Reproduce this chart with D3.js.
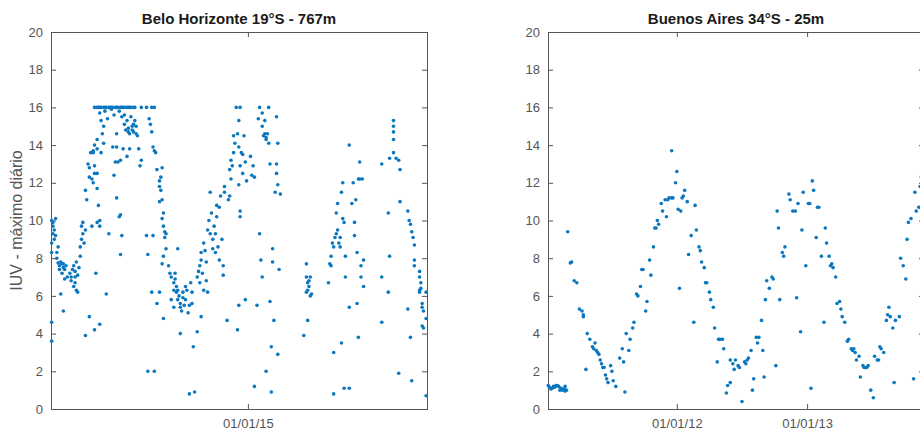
<!DOCTYPE html>
<html>
<head>
<meta charset="utf-8">
<script src="https://cdn.jsdelivr.net/npm/d3@7"></script>
<style>
  html, body { margin: 0; padding: 0; background: #fff; overflow: hidden; }
  svg { display: block; overflow: hidden; }
</style>
</head>
<body>
<div id="chart"></div>
<script>
// values: [decimal year, daily max UV index]
const bhWinter2013 = [
  [2013.49,10.0],[2013.50,9.9],[2013.50,9.7],[2013.51,9.5],[2013.52,10.1],[2013.50,9.3],[2013.49,8.8],[2013.49,8.3],
  [2013.49,4.6],[2013.49,3.6],[2013.51,9.0],[2013.53,8.3],[2013.53,8.0],[2013.54,7.75],[2013.55,7.6],[2013.55,7.4],
  [2013.56,7.8],[2013.57,7.7],[2013.57,7.2],[2013.58,7.5],[2013.58,7.7],[2013.59,7.4],[2013.60,7.6],[2013.61,7.0],
  [2013.59,6.9],[2013.56,6.1],[2013.58,5.2],[2013.54,8.6],[2013.52,9.2],[2013.63,7.2],[2013.64,7.0],[2013.64,6.8],
  [2013.65,7.4],[2013.66,6.5],[2013.66,7.6],[2013.67,7.3],[2013.68,6.3],[2013.68,7.8],[2013.69,7.1],[2013.69,6.2],
  [2013.70,7.5],[2013.67,6.7],[2013.67,7.0],[2013.71,8.1],[2013.71,8.6],[2013.72,9.0],[2013.73,9.3],[2013.72,9.7],
  [2013.73,9.9],[2013.74,8.8],[2013.75,9.5],[2013.75,3.9],[2013.75,11.6]
];
const bhSummer2014 = [
  [2013.76,11.1],[2013.77,13.0],[2013.78,12.8],[2013.78,12.3],[2013.79,13.6],[2013.80,12.2],[2013.81,13.6],[2013.81,13.7],
  [2013.82,12.5],[2013.78,4.9],[2013.82,4.2],[2013.80,9.7],[2013.84,9.9],[2013.83,7.2],[2013.82,14.0],[2013.81,12.0],
  [2013.84,11.7],[2013.85,10.8],[2013.86,10.0],[2013.86,4.5],[2013.86,9.7],[2013.84,14.3],[2013.84,13.8],[2013.82,12.9],
  [2013.84,12.5],
  [2013.82,16],[2013.84,16],[2013.85,16],[2013.86,16],[2013.87,16],[2013.89,16],[2013.90,16],[2013.91,16],[2013.93,16],
  [2013.94,16],[2013.95,16],[2013.96,16],[2013.98,16],[2013.99,16],[2014.00,16],[2014.02,16],[2014.03,16],[2014.04,16],
  [2014.05,16],[2014.07,16],[2014.08,16],[2014.09,16],[2014.10,16],[2014.12,16],[2014.13,16],[2014.18,16],[2014.22,16],
  [2014.26,16],[2014.28,16],
  [2013.86,15.7],[2013.87,15.3],[2013.89,15.0],[2013.88,14.6],[2013.89,14.1],[2013.87,13.6],[2013.91,6.1],[2013.93,9.3],
  [2013.97,12.4],[2013.99,14.6],[2013.99,13.9],[2014.00,13.1],[2013.99,11.2],[2014.01,10.2],[2014.02,10.3],[2014.03,9.2],
  [2014.02,8.2],[2014.02,13.2],[2014.04,13.8],[2014.05,15.1],[2014.05,15.6],[2014.07,15.3],[2014.08,14.9],[2014.09,14.6],
  [2014.07,13.4],[2014.09,13.8],[2014.10,15.5],[2014.11,15.0],[2014.12,14.7],[2014.13,15.3],[2014.14,14.6],[2014.14,15.0],
  [2014.15,14.5],[2014.16,13.8],[2014.17,12.9],[2014.18,13.2],[2014.22,9.2],[2014.23,8.2],[2014.23,2.0],[2014.28,2.0],
  [2014.25,15.1],[2014.24,15.4],[2014.26,14.7],[2014.27,13.9],[2014.28,13.7],[2014.29,13.6],[2014.30,12.7],[2014.27,9.2],
  [2014.26,6.2],[2014.30,5.6],[2014.32,6.2],[2014.35,4.8],[2014.34,12.8],[2014.32,12.1],[2014.32,11.8],[2014.33,11.6],
  [2014.34,11.1],[2014.32,11.0],[2014.35,10.4],[2014.34,10.1],[2014.35,9.7],[2014.36,9.4],[2014.37,9.3],[2014.37,8.5],
  [2014.35,8.1],[2014.34,7.7],
  [2013.90,15.8],[2013.92,15.4],[2013.95,15.9],[2013.97,15.6],[2014.01,15.8],[2014.03,15.5],[2014.06,14.8],[2014.08,14.7],
  [2014.11,14.8],[2014.12,15.1],[2013.96,13.9],[2013.98,13.1],[2014.33,12.3],[2014.36,9.1]
];
const bhWinter2014 = [
  [2014.39,7.6],[2014.40,7.2],[2014.41,7.0],[2014.43,6.7],[2014.43,6.3],[2014.44,6.9],[2014.45,6.5],[2014.45,6.2],
  [2014.46,5.8],[2014.46,6.3],[2014.47,6.0],[2014.48,5.6],[2014.48,5.4],[2014.49,5.2],[2014.50,5.9],[2014.50,6.2],
  [2014.51,5.5],[2014.52,6.5],[2014.52,5.8],[2014.53,6.3],[2014.46,8.5],[2014.48,4.0],[2014.44,7.2],[2014.41,5.8],
  [2014.43,5.4],[2014.54,5.1],[2014.55,5.5],[2014.55,0.8],[2014.59,0.9],[2014.58,3.3],[2014.61,4.1],[2014.57,5.6],
  [2014.57,6.2],[2014.56,6.7],[2014.61,7.0],[2014.62,7.3],[2014.63,7.6],[2014.63,6.7],[2014.64,8.3],[2014.64,7.9],
  [2014.65,7.2],[2014.66,6.3],[2014.64,4.9],[2014.66,8.8],[2014.67,8.4],[2014.68,7.8],[2014.68,6.8],[2014.69,6.2],
  [2014.69,9.5],[2014.70,10.0],[2014.71,11.5],[2014.71,9.3],[2014.72,10.4],[2014.73,9.0],[2014.73,8.5],[2014.74,9.7],
  [2014.75,8.3],[2014.75,9.3],[2014.76,10.2],[2014.76,10.8],[2014.77,8.6],[2014.78,7.9],[2014.78,10.7],[2014.79,11.3],
  [2014.80,9.0],[2014.81,7.6],[2014.81,7.1],[2014.82,11.8],[2014.82,11.5],[2014.84,4.7]
];
const bhSummer2015 = [
  [2014.85,11.1],[2014.86,11.3],[2014.86,12.7],[2014.87,13.2],[2014.87,12.2],[2014.88,12.9],[2014.89,13.6],[2014.89,14.5],
  [2014.90,14.1],[2014.91,16],[2014.92,14.6],[2014.93,15.3],[2014.93,13.9],[2014.94,12.9],[2014.94,16],[2014.92,4.2],
  [2014.93,5.5],[2014.94,10.5],[2014.94,10.2],[2014.93,11.9],[2014.95,13.6],[2014.96,13.5],[2014.96,12.5],[2014.97,14.5],
  [2014.98,5.8],[2014.98,13.1],[2014.99,12.1],[2015.02,13.4],[2015.03,12.4],[2015.04,12.9],[2015.05,12.3],[2015.05,1.2],
  [2015.14,2.0],[2015.07,5.5],[2015.08,15.4],[2015.09,16],[2015.09,9.3],[2015.10,7.9],[2015.11,7.0],[2015.11,15.7],
  [2015.11,15.0],[2015.12,14.5],[2015.13,15.3],[2015.13,14.6],[2015.14,14.4],[2015.14,14.3],[2015.15,14.6],[2015.16,14.1],
  [2015.16,16],[2015.17,13.0],[2015.17,5.7],[2015.18,3.3],[2015.18,0.9],[2015.19,7.8],[2015.19,8.5],[2015.20,4.7],
  [2015.21,11.5],[2015.22,12.5],[2015.22,15.5],[2015.22,13.0],[2015.23,11.9],[2015.23,14.1],[2015.23,2.9],[2015.24,7.4],
  [2015.25,11.4]
];
const bhWinter2015 = [
  [2015.43,3.9],[2015.45,7.7],[2015.45,7.0],[2015.46,6.7],[2015.46,6.3],[2015.45,6.2],[2015.47,6.5],[2015.48,6.0],
  [2015.48,7.0],[2015.49,6.1],[2015.47,6.8],[2015.46,4.7],
  [2015.62,6.7],[2015.63,7.7],[2015.64,8.1],[2015.64,7.6],[2015.65,8.8],[2015.66,0.8],[2015.66,3.0],[2015.66,8.6],
  [2015.67,9.1],[2015.68,9.3],[2015.68,10.4],[2015.69,10.9],[2015.69,9.5],[2015.70,8.8],[2015.71,8.6],[2015.71,9.1],
  [2015.72,11.5],[2015.72,3.5],[2015.73,12.0],[2015.73,10.1],[2015.74,9.9],[2015.75,8.1],[2015.75,7.0],[2015.74,1.1],
  [2015.78,14.0],[2015.78,5.4],[2015.78,1.1],[2015.80,10.9],[2015.81,12.0],[2015.82,9.9],[2015.82,9.2],[2015.83,11.1],
  [2015.84,5.6],[2015.84,8.3],[2015.85,12.2],[2015.86,13.1],[2015.86,12.2],[2015.87,7.0],[2015.87,7.6],[2015.88,12.2],
  [2015.85,3.8],[2015.89,6.5],[2015.89,7.9]
];
const bhSummer2016 = [
  [2016.03,13.0],[2016.03,7.0],[2016.03,4.6],[2016.08,10.4],[2016.09,8.1],[2016.08,6.2],[2016.12,15.3],[2016.12,15.0],
  [2016.12,14.7],[2016.12,14.3],[2016.12,13.6],[2016.14,13.3],[2016.09,13.3],[2016.16,13.2],[2016.17,12.7],[2016.17,11.0],
  [2016.16,1.9],[2016.26,1.5],[2016.25,3.8],[2016.23,5.3],[2016.23,10.5],[2016.24,10.0],[2016.25,9.8],[2016.26,9.4],
  [2016.27,9.1],[2016.28,8.7],[2016.28,7.9],[2016.28,7.6],[2016.32,7.3],[2016.32,7.0],[2016.33,6.7],[2016.32,6.3],
  [2016.32,6.2],[2016.33,6.4],[2016.34,5.6],[2016.34,5.4],[2016.35,5.2],[2016.35,4.3],[2016.34,4.4],[2016.37,6.2],
  [2016.37,4.8],[2016.37,0.7]
];

const baWinter2011 = [
  [2011.01,1.24],[2011.02,1.17],[2011.03,1.06],[2011.04,1.1],[2011.05,1.2],[2011.06,1.15],[2011.07,1.24],[2011.08,1.25],
  [2011.09,1.2],[2011.10,1.0],[2011.11,1.1],[2011.12,1.0],[2011.13,1.06],[2011.14,1.2],[2011.15,1.0],[2011.14,0.95],
  [2011.16,9.4],[2011.18,7.75],[2011.19,7.8],[2011.21,6.8],[2011.23,6.7],[2011.25,5.3],[2011.27,5.2],[2011.28,4.9],
  [2011.28,5.0],[2011.30,2.1],[2011.31,4.0],[2011.33,3.7],[2011.35,3.3],[2011.36,3.2],[2011.37,3.5],[2011.38,3.1],
  [2011.39,3.0],[2011.40,2.9],[2011.41,2.6],[2011.42,2.4],[2011.43,2.2],[2011.44,2.2],[2011.45,1.8],[2011.46,1.6],
  [2011.47,1.4],[2011.49,2.3],[2011.50,2.0],[2011.51,1.5],[2011.53,1.2],[2011.56,2.7],[2011.58,3.2],[2011.59,2.5],
  [2011.60,0.9],[2011.61,4.0]
];
const baSummer2012 = [
  [2011.63,3.1],[2011.64,3.7],[2011.66,4.3],[2011.67,4.6],[2011.69,6.1],[2011.70,6.0],[2011.72,6.5],[2011.73,7.4],
  [2011.74,7.4],[2011.76,5.2],[2011.77,5.7],[2011.79,7.9],[2011.80,7.1],[2011.82,8.6],[2011.83,9.6],[2011.84,9.6],
  [2011.85,10.0],[2011.86,9.8],[2011.88,10.9],[2011.89,10.5],[2011.91,11.1],[2011.92,10.2],[2011.93,11.1],[2011.94,11.2],
  [2011.96,11.2],[2011.97,11.2],[2011.96,13.7],[2011.99,12.0],[2012.00,12.6],[2012.01,10.6],[2012.03,10.5],[2012.02,6.4],
  [2012.04,11.2],[2012.05,11.3],[2012.06,11.6],[2012.08,11.0],[2012.09,8.2],[2012.11,9.2],[2012.13,4.6],[2012.14,10.8],
  [2012.15,9.5],[2012.17,8.6],[2012.18,8.4],[2012.19,7.8],[2012.21,7.5],[2012.22,6.7],[2012.23,6.7],[2012.25,6.2],
  [2012.26,5.8],[2012.28,5.4],[2012.29,4.3]
];
const baWinter2012 = [
  [2012.31,2.5],[2012.32,3.7],[2012.33,3.7],[2012.35,3.7],[2012.36,3.2],[2012.38,0.85],[2012.39,1.25],[2012.41,1.4],
  [2012.41,2.6],[2012.43,2.4],[2012.44,2.1],[2012.45,2.6],[2012.47,2.3],[2012.48,2.2],[2012.50,0.4],[2012.52,2.5],
  [2012.53,2.4],[2012.54,2.6],[2012.55,2.7],[2012.57,3.1],[2012.58,1.0],[2012.59,1.6],[2012.61,3.8],[2012.62,3.5],
  [2012.63,3.8],[2012.65,4.7],[2012.66,3.1],[2012.67,1.7],[2012.68,5.8]
];
const baSummer2013 = [
  [2012.69,6.8],[2012.71,6.4],[2012.73,7.0],[2012.74,6.9],[2012.76,2.3],[2012.77,10.5],[2012.78,9.6],[2012.79,5.8],
  [2012.81,8.3],[2012.82,8.1],[2012.83,8.6],[2012.86,11.4],[2012.87,11.1],[2012.89,10.5],[2012.91,10.5],[2012.92,5.9],
  [2012.93,10.9],[2012.95,4.1],[2012.96,9.5],[2012.97,11.5],[2012.99,7.6],[2013.01,10.9],[2013.02,10.9],[2013.03,1.1],
  [2013.04,12.1],[2013.05,11.6],[2013.07,9.1],[2013.08,10.7],[2013.09,10.7],[2013.11,8.1],[2013.13,4.6],[2013.14,9.6],
  [2013.15,8.8],[2013.17,8.1],[2013.18,7.6],[2013.19,7.7],[2013.20,7.5],[2013.22,7.0],[2013.23,5.6],[2013.25,5.7],
  [2013.26,5.3],[2013.27,4.9],[2013.29,4.6]
];
const baWinter2013 = [
  [2013.31,3.6],[2013.32,3.7],[2013.34,3.2],[2013.35,3.1],[2013.36,3.2],[2013.37,3.0],[2013.38,2.6],[2013.40,2.8],
  [2013.41,1.7],[2013.43,2.3],[2013.44,2.2],[2013.45,2.2],[2013.46,2.2],[2013.47,2.3],[2013.49,1.0],[2013.51,0.6],
  [2013.52,2.8],[2013.54,2.6],[2013.55,2.6],[2013.56,3.3],[2013.57,3.2],[2013.59,3.0],[2013.61,4.7],[2013.62,5.0],
  [2013.63,5.4],[2013.64,4.9],[2013.66,4.3],[2013.67,1.4],[2013.68,4.7],[2013.71,4.9],[2013.72,8.0],[2013.74,7.6],
  [2013.76,6.9],[2013.77,9.0],[2013.78,9.9],[2013.80,10.1],[2013.82,1.6],[2013.83,11.5],[2013.84,10.5],[2013.86,10.7],
  [2013.87,11.8],[2013.88,12.3],[2013.89,11.3]
];

const yTickValues = [0, 2, 4, 6, 8, 10, 12, 14, 16, 18, 20];
const bhDateTicks = ['2015-01-01'];
const baDateTicks = ['2012-01-01', '2013-01-01'];
const bhRange = [2013.485, 2016.377];
const baRange = [2011.008, 2013.90];

const width = 920, height = 435;
const plotTop = 32, plotBottom = 409;
const font = '"Liberation Sans", Arial, Helvetica, sans-serif';

function decYear(v) {
  const yr = Math.floor(v);
  const a = Date.UTC(yr, 0, 1), b = Date.UTC(yr + 1, 0, 1);
  return new Date(a + (v - yr) * (b - a));
}

const svg = d3.select('#chart').append('svg')
  .attr('width', width)
  .attr('height', height);

function styleAxis(g) {
  g.select('.domain').remove();
  g.selectAll('.tick line').attr('stroke', '#555');
  g.selectAll('.tick text')
    .attr('fill', '#555')
    .style('font-family', font)
    .style('font-size', '13px');
}

function drawPanel(opts) {
  const x = d3.scaleUtc()
    .domain(opts.range.map(decYear))
    .range([opts.left, opts.right]);
  const y = d3.scaleLinear().domain([0, 20]).range([plotBottom, plotTop]);
  const ticks = opts.dateTicks.map(s => new Date(s + 'T00:00:00Z'));

  const g = svg.append('g');

  g.append('g').attr('transform', `translate(0,${plotBottom})`)
    .call(d3.axisBottom(x).tickValues(ticks).tickFormat(d3.utcFormat('%d/%m/%y')).tickSize(-5).tickPadding(10))
    .call(styleAxis);
  g.append('g').attr('transform', `translate(0,${plotTop})`)
    .call(d3.axisTop(x).tickValues(ticks).tickFormat('').tickSize(-5))
    .call(styleAxis);
  g.append('g').attr('transform', `translate(${opts.left},0)`)
    .call(d3.axisLeft(y).tickValues(yTickValues).tickSize(-5).tickPadding(8))
    .call(styleAxis);
  g.append('g').attr('transform', `translate(${opts.right},0)`)
    .call(d3.axisRight(y).tickValues(yTickValues).tickFormat('').tickSize(-5))
    .call(styleAxis);

  g.append('rect')
    .attr('x', opts.left + 0.5)
    .attr('y', plotTop + 0.5)
    .attr('width', opts.right - opts.left)
    .attr('height', plotBottom - plotTop)
    .attr('fill', 'none')
    .attr('stroke', '#555')
    .attr('stroke-width', 1);

  g.append('g').selectAll('circle')
    .data(opts.data)
    .join('circle')
    .attr('cx', d => x(decYear(d[0])))
    .attr('cy', d => y(d[1]))
    .attr('r', 1.8)
    .attr('fill', '#0a77bf');

  g.append('text')
    .attr('x', (opts.left + opts.right) / 2)
    .attr('y', 24)
    .attr('text-anchor', 'middle')
    .style('font-family', font)
    .style('font-size', '15px')
    .style('font-weight', 'bold')
    .attr('fill', '#1a1a1a')
    .text(opts.title);
}

drawPanel({
  title: 'Belo Horizonte 19°S - 767m',
  left: 51, right: 427,
  range: bhRange,
  dateTicks: bhDateTicks,
  data: [].concat(bhWinter2013, bhSummer2014, bhWinter2014, bhSummer2015, bhWinter2015, bhSummer2016)
});

drawPanel({
  title: 'Buenos Aires 34°S - 25m',
  left: 548, right: 924,
  range: baRange,
  dateTicks: baDateTicks,
  data: [].concat(baWinter2011, baSummer2012, baWinter2012, baSummer2013, baWinter2013)
});

svg.append('text')
  .attr('transform', `translate(22,${(plotTop + plotBottom) / 2}) rotate(-90)`)
  .attr('text-anchor', 'middle')
  .style('font-family', font)
  .style('font-size', '16px')
  .attr('fill', '#555')
  .text('IUV - máximo diário');
</script>
</body>
</html>
